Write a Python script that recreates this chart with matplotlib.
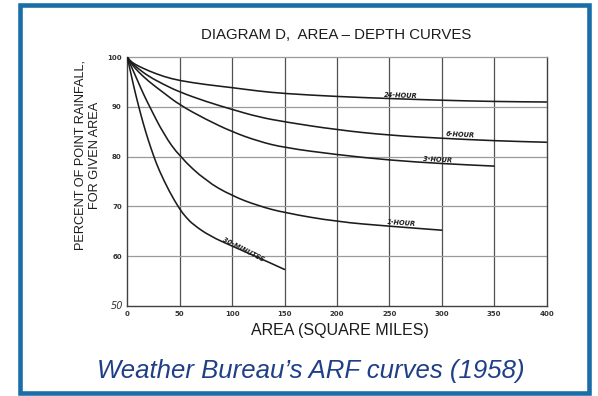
import matplotlib
matplotlib.use("Agg")
import matplotlib.pyplot as plt
from matplotlib.patches import Rectangle, PathPatch
from matplotlib.path import Path

# Area-depth curves.
area_24h = [0, 2, 5, 10, 20, 35, 50, 75, 100, 125, 150, 200, 250, 300, 350, 400]
pct_24h = [100, 99.5, 98.9, 98.3, 97.3, 96.1, 95.3, 94.5, 93.9, 93.2, 92.7, 92.1, 91.7, 91.35, 91.1, 91.0]

area_6h = [0, 2, 5, 10, 20, 35, 50, 75, 100, 125, 150, 200, 250, 300, 350, 400]
pct_6h = [100, 99.4, 98.7, 97.8, 96.2, 94.5, 93.0, 91.1, 89.5, 88.0, 87.0, 85.4, 84.3, 83.7, 83.2, 82.9]

area_3h = [0, 2, 5, 10, 20, 35, 50, 75, 100, 125, 150, 200, 250, 300, 350]
pct_3h = [100, 99.3, 98.4, 97.2, 95.2, 92.8, 90.4, 87.5, 85.0, 83.1, 81.8, 80.4, 79.3, 78.6, 78.1]

area_1h = [0, 2, 5, 10, 15, 20, 35, 50, 75, 100, 125, 150, 200, 250, 300]
pct_1h = [100, 99.0, 97.6, 95.2, 92.8, 90.6, 84.4, 80.0, 75.1, 72.1, 70.1, 68.7, 66.9, 66.0, 65.2]

area_30m = [0, 2, 5, 8, 11, 15, 20, 25, 30, 40, 50, 56, 63, 79, 100, 125, 150]
pct_30m = [100, 98.1, 95.2, 92.5, 90.0, 86.8, 83.3, 80.2, 77.4, 73.0, 69.4, 67.8, 66.3, 64.0, 62.0, 59.7, 57.3]

curve_names = ["24-HOUR", "6-HOUR", "3-HOUR", "1-HOUR", "30-MINUTES"]

x_ticks = [0, 50, 100, 150, 200, 250, 300, 350, 400]
y_ticks = [60, 70, 80, 90, 100]

font = "Liberation Sans"
ink = "#1c1c1c"


def smooth_curve(ax, xs, ys, **kw):
    # draw the read points as a quadratic spline path (no extra data points)
    pts = list(zip(xs, ys))
    verts = [pts[0]]
    codes = [Path.MOVETO]
    mid = ((pts[0][0] + pts[1][0]) / 2, (pts[0][1] + pts[1][1]) / 2)
    verts.append(mid)
    codes.append(Path.LINETO)
    for i in range(1, len(pts) - 1):
        nxt = ((pts[i][0] + pts[i + 1][0]) / 2, (pts[i][1] + pts[i + 1][1]) / 2)
        verts += [pts[i], nxt]
        codes += [Path.CURVE3, Path.CURVE3]
    verts.append(pts[-1])
    codes.append(Path.LINETO)
    ax.add_patch(PathPatch(Path(verts, codes), fill=False, **kw))


fig = plt.figure(figsize=(5.98, 3.96), dpi=100)
fig.patch.set_facecolor("white")

ax = fig.add_axes([0.2129, 0.228, 0.701, 0.6273])
ax.set_xlim(0, 400)
ax.set_ylim(50, 100)

for x in x_ticks[1:-1]:
    ax.axvline(x, color="#505050", lw=0.9, zorder=1)
for y in y_ticks[:-1]:
    ax.axhline(y, color="#9a9a9a", lw=0.9, zorder=1)

curves = [(area_24h, pct_24h), (area_6h, pct_6h), (area_3h, pct_3h),
          (area_1h, pct_1h), (area_30m, pct_30m)]
for xs, ys in curves:
    smooth_curve(ax, xs, ys, edgecolor=ink, lw=1.15, zorder=3, capstyle="round")

# curve labels, written along the lines like the drafted original
label_spots = [(261, 92.35, -2), (318, 84.35, -3), (296, 79.45, -3),
               (261, 66.7, -4), (111, 61.2, -27)]
for name, (lx, ly, rot) in zip(curve_names, label_spots):
    ax.text(lx, ly, name, fontsize=4.8, fontstyle="italic", fontweight="bold",
            color=ink, ha="center", va="center", rotation=rot, family="DejaVu Sans",
            zorder=4)

ax.set_xticks(x_ticks)
ax.set_xticklabels([str(v) for v in x_ticks])
ax.set_yticks(y_ticks)
ax.set_yticklabels([str(v) for v in y_ticks])
ax.tick_params(length=0, labelsize=5, colors="#333333", pad=4)
for lab in ax.get_xticklabels() + ax.get_yticklabels():
    lab.set_fontweight("bold")
ax.text(-4, 50, "50", fontsize=7, fontstyle="italic", color="#333333",
        ha="right", va="center", family="DejaVu Sans")

for side in ["left", "bottom", "right"]:
    ax.spines[side].set_color("#404040")
    ax.spines[side].set_linewidth(1.0)
ax.spines["top"].set_color("#9a9a9a")
ax.spines["top"].set_linewidth(0.9)

fig.text(336 / 598, 1 - 35 / 396, "DIAGRAM D,  AREA \u2013 DEPTH CURVES",
         fontsize=10.8, family=font, color=ink, ha="center", va="center")
fig.text(88 / 598, 1 - 155 / 396, "PERCENT OF POINT RAINFALL,\nFOR GIVEN AREA",
         fontsize=9.2, family=font, color=ink, ha="center", va="center",
         rotation=90, multialignment="center", linespacing=1.25)
fig.text(340 / 598, 1 - 330 / 396, "AREA (SQUARE MILES)", fontsize=11.5,
         family=font, color=ink, ha="center", va="center")

fig.text(311 / 598, 1 - 371 / 396, "Weather Bureau\u2019s ARF curves (1958)",
         fontsize=18.5, family=font, fontstyle="italic", color="#1f3f86",
         ha="center", va="center")

fig.patches.append(Rectangle((19.7 / 598, 1 - 393 / 396), (589 - 19.7) / 598,
                             (393 - 4.7) / 396, transform=fig.transFigure,
                             fill=False, edgecolor="#1a6ea8", lw=3.3))

fig.savefig("out.png", dpi=100)
